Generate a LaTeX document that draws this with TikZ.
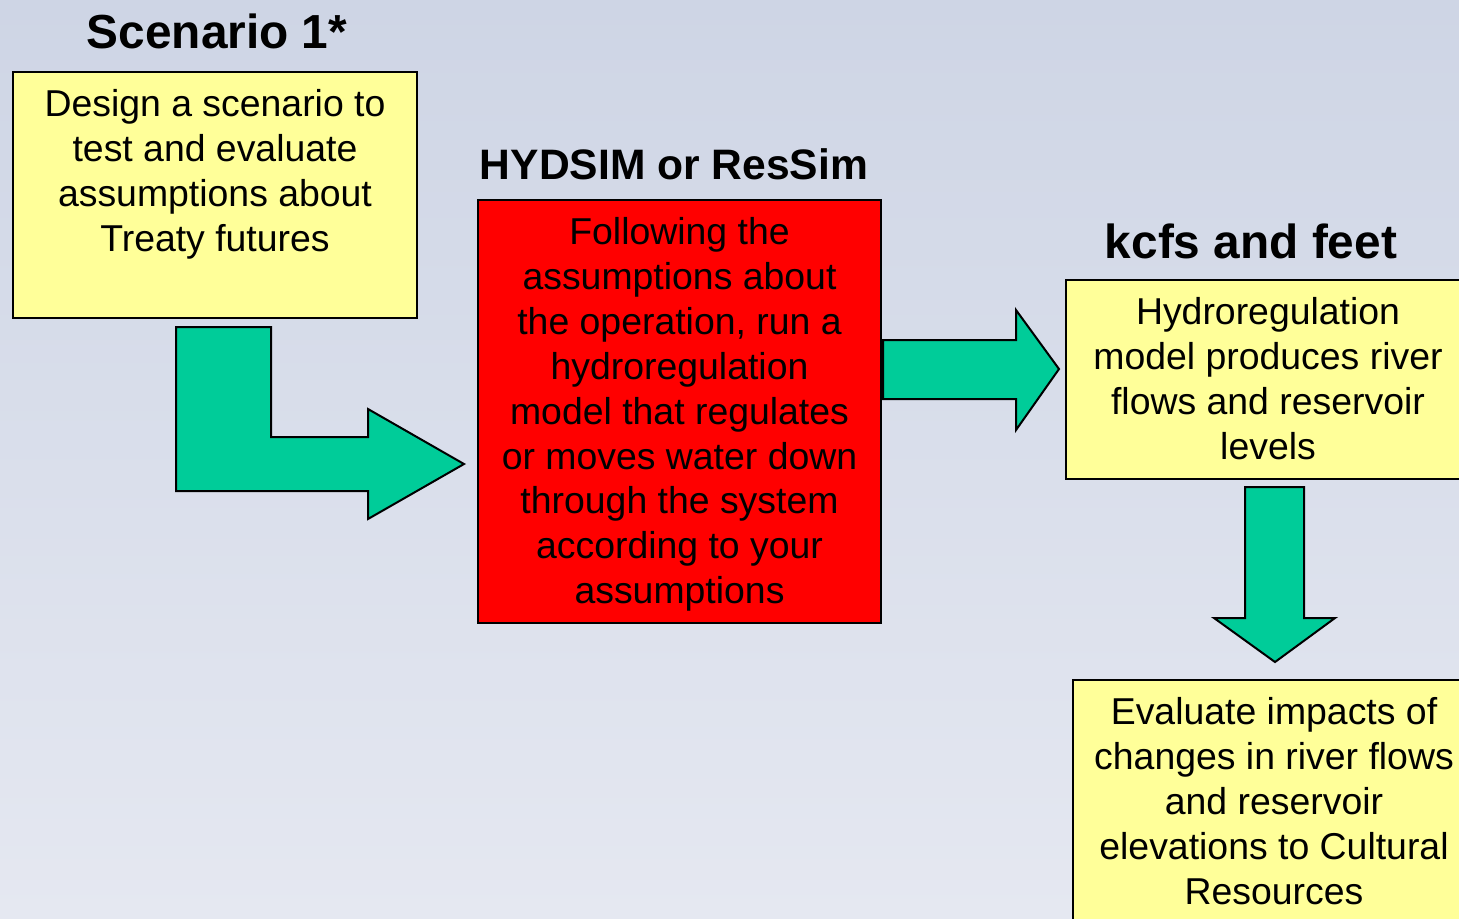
\documentclass[tikz,border=0pt]{standalone}
\usepackage{fontspec}
\setmainfont{Liberation Sans}
\begin{document}
\begin{tikzpicture}[x=0.5pt,y=-0.5pt,
  box/.style={draw=black,line width=1pt,anchor=north west,inner sep=0pt},
  note/.style={font=\fontsize{18.7}{22.45}\selectfont,align=center,anchor=north,inner sep=0pt},
  head/.style={font=\fontsize{23.9}{27}\selectfont\bfseries,inner sep=0pt},
  blockarrow/.style={fill=arrowgreen,draw=black,line width=1pt,line join=miter}]
\definecolor{bgtop}{RGB}{206,213,229}
\definecolor{bgbot}{RGB}{229,232,241}
\definecolor{paleyellow}{RGB}{255,255,153}
\definecolor{arrowgreen}{RGB}{0,204,153}
\definecolor{boxred}{RGB}{255,0,0}
\useasboundingbox (0,0) rectangle (1459,918);
\clip (0,0) rectangle (1459,918);
\shade[top color=bgtop,bottom color=bgbot] (0,0) rectangle (1459,918);

% step 1: scenario design
\node[head] (t1) at (217,31) {Scenario 1*};
\node[box,fill=paleyellow,minimum width=404*0.5pt,minimum height=246*0.5pt] (b1) at (12,71) {};
\node[note] (n1) at ([yshift=-9pt]b1.north) {Design a scenario to\\test and evaluate\\assumptions about\\Treaty futures};

% step 2: hydroregulation model
\node[head,font=\fontsize{21.3}{25}\selectfont\bfseries] (t2) at (674,164) {HYDSIM or ResSim};
\node[box,fill=boxred,minimum width=403*0.5pt,minimum height=423*0.5pt] (b2) at (477,199) {};
\node[note] (n2) at ([yshift=-9pt]b2.north) {Following the\\assumptions about\\the operation, run a\\hydroregulation\\model that regulates\\or moves water down\\through the system\\according to your\\assumptions};

% step 3: model output
\node[head] (t3) at (1251,241) {kcfs and feet};
\node[box,fill=paleyellow,minimum width=404*0.5pt,minimum height=199*0.5pt] (b3) at (1065,279) {};
\node[note] (n3) at ([yshift=-9pt]b3.north) {Hydroregulation\\model produces river\\flows and reservoir\\levels};

% step 4: impact evaluation
\node[box,fill=paleyellow,minimum width=402*0.5pt,minimum height=260*0.5pt] (b4) at (1072,679) {};
\node[note] (n4) at ([yshift=-9pt]b4.north) {Evaluate impacts of\\changes in river flows\\and reservoir\\elevations to Cultural\\Resources};

% block arrows between the steps
\draw[blockarrow] (176,327) -- (271,327) -- (271,437) -- (368,437) -- (368,409)
  -- (464,464) -- (368,519) -- (368,491) -- (176,491) -- cycle;
\draw[blockarrow] (883,340) -- (1016,340) -- (1016,310) -- (1059,369)
  -- (1016,430) -- (1016,399) -- (883,399) -- cycle;
\draw[blockarrow] (1245,487) -- (1304,487) -- (1304,618) -- (1335,618)
  -- (1275,662) -- (1214,618) -- (1245,618) -- cycle;
\end{tikzpicture}
\end{document}
